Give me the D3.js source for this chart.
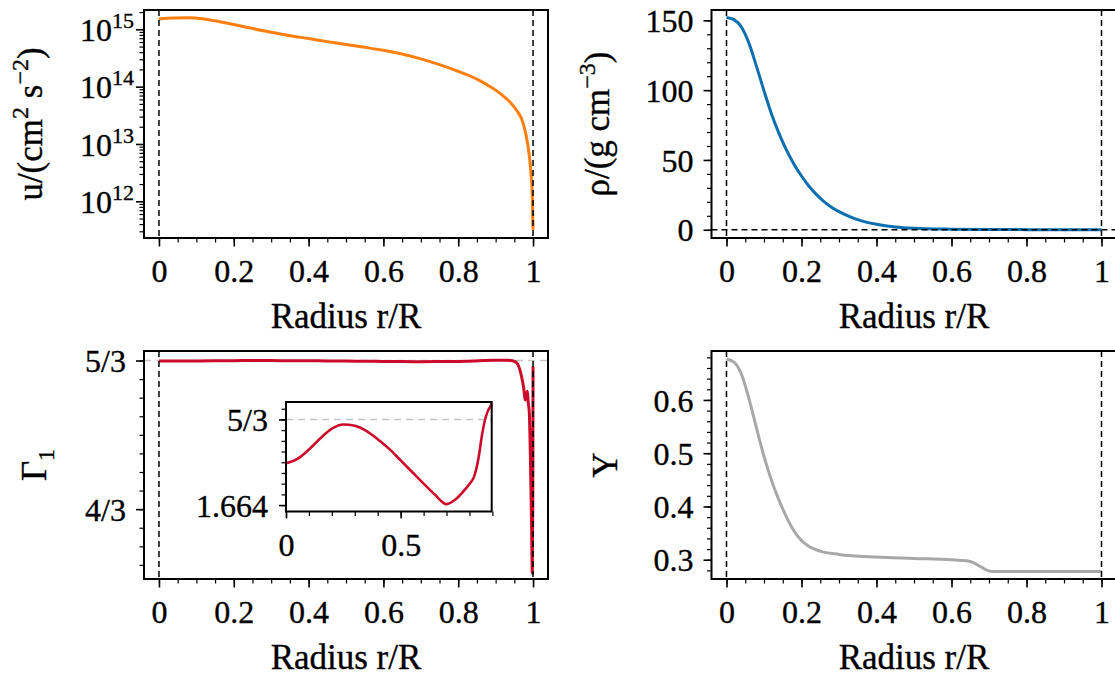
<!DOCTYPE html>
<html><head><meta charset="utf-8">
<script src="https://cdn.jsdelivr.net/npm/d3@7"></script>
<style>
body{margin:0;background:#fff;}
svg{display:block;background:#fff;}
</style></head><body>
<svg id="chart" width="1115" height="679"></svg>
<script>
// ---------------- data ----------------
const radiusTicks = [0, 0.2, 0.4, 0.6, 0.8, 1];
const radiusLabels = ["0", "0.2", "0.4", "0.6", "0.8", "1"];

const uRadius = [0,0.04,0.08,0.12,0.16,0.2,0.25,0.3,0.35,0.4,0.45,0.5,0.55,0.6,0.65,0.7,0.75,0.8,0.85,0.88,0.9,0.92,0.94,0.96,0.97,0.98,0.99,0.995,0.998,1.0];
const uValues = [1.52e15,1.57e15,1.59e15,1.52e15,1.37e15,1.21e15,1.03e15,8.9e14,7.75e14,6.9e14,6.1e14,5.45e14,4.85e14,4.3e14,3.72e14,3.05e14,2.42e14,1.85e14,1.35e14,1.05e14,8.7e13,6.9e13,5.25e13,3.55e13,2.7e13,1.58e13,6.3e12,2.8e12,1.26e12,3.2e11];
const uTicks = [1e12, 1e13, 1e14, 1e15];

const rhoRadius = [0,0.02,0.04,0.06,0.08,0.1,0.12,0.14,0.16,0.18,0.2,0.22,0.24,0.26,0.28,0.3,0.33,0.36,0.4,0.45,0.5,0.6,0.7,0.8,0.9,1.0];
const rhoValues = [152,150.5,145,133.5,117,99.5,83,69,57,47,38.5,31.2,25.2,20.2,16.2,13,9.3,6.4,3.9,2,1.1,0.45,0.2,0.09,0.03,0];
const rhoTicks = [0, 50, 100, 150];

const gammaRadius = [0,0.05,0.1,0.15,0.2,0.25,0.3,0.35,0.4,0.45,0.5,0.55,0.6,0.65,0.7,0.74,0.78,0.8,0.82,0.84,0.855,0.87,0.9,0.93,0.95,0.96,0.965,0.97,0.975,0.979,0.982,0.985,0.987,0.99,0.993,0.996,0.998,0.9993,1.0];
const gammaValues = [1.66530,1.66544,1.66573,1.66608,1.66638,1.66651,1.66647,1.66631,1.66605,1.66575,1.66539,1.66503,1.66467,1.66432,1.66403,1.66418,1.66448,1.66466,1.66488,1.66548,1.66620,1.66672,1.66718,1.6674,1.665,1.657,1.645,1.628,1.605,1.578,1.590,1.598,1.574,1.55,1.45,1.30,1.19,1.35,1.654];
const gammaTicks = [4/3, 5/3];
const gammaLabels = ["4/3", "5/3"];
const insetXTicks = [0, 0.5];
const insetXLabels = ["0", "0.5"];
const insetYTicks = [1.664, 5/3];
const insetYLabels = ["1.664", "5/3"];

const heliumRadius = [0,0.02,0.04,0.06,0.08,0.1,0.12,0.14,0.16,0.18,0.2,0.22,0.25,0.3,0.4,0.5,0.6,0.64,0.66,0.68,0.7,0.72,1.0];
const heliumValues = [0.677,0.671,0.648,0.602,0.547,0.494,0.449,0.412,0.380,0.354,0.336,0.325,0.316,0.310,0.305,0.3025,0.300,0.298,0.294,0.286,0.279,0.278,0.278];
const heliumTicks = [0.3, 0.4, 0.5, 0.6];
const heliumLabels = ["0.3", "0.4", "0.5", "0.6"];

// ---------------- styling ----------------
const FONT = "'Liberation Serif','Times New Roman',serif";
const TICK_FS = 32, LABEL_FS = 35;
const svg = d3.select("#chart");
svg.append("rect").attr("width",1115).attr("height",679).attr("fill","#fff");

let clipId = 0;
function makePanel(left, top, w, h) {
  const g = svg.append("g").attr("transform", `translate(${left},${top})`);
  const id = "clip" + (clipId++);
  g.append("clipPath").attr("id", id).append("rect").attr("width", w).attr("height", h);
  return {g, w, h, left, top, clip: `url(#${id})`};
}

function embolden(sel) {
  sel.attr("stroke", "#000").attr("stroke-width", 0.35);
}

function axis(g, scale, orient, values, size, labels, tx, ty) {
  const gen = (orient === "bottom" ? d3.axisBottom(scale) : d3.axisLeft(scale))
    .tickValues(values).tickSize(size).tickSizeOuter(0)
    .tickFormat(labels ? (d, i) => labels[i] : () => "");
  const a = g.append("g").attr("transform", `translate(${tx},${ty})`).call(gen);
  a.select(".domain").remove();
  a.attr("font-family", FONT).attr("font-size", TICK_FS);
  a.selectAll(".tick line").attr("stroke", "#000").attr("stroke-width", size > 5 ? 1.6 : 1.2);
  a.selectAll(".tick text").attr("fill", "#000");
  embolden(a.selectAll(".tick text"));
  if (orient === "bottom") a.selectAll(".tick text").attr("y", 44).attr("dy", 0);
  else a.selectAll(".tick text").attr("x", -18).attr("dy", "0.35em");
  return a;
}

function frame(p) {
  p.g.append("rect").attr("width", p.w).attr("height", p.h)
    .attr("fill", "none").attr("stroke", "#000").attr("stroke-width", 2);
}

function xAxisFull(p, x) {
  axis(p.g, x, "bottom", d3.range(0, 1.0001, 0.05), 4.5, null, 0, p.h);
  axis(p.g, x, "bottom", radiusTicks, 8.5, radiusLabels, 0, p.h);
  const t = p.g.append("text").attr("x", p.w / 2).attr("y", p.h + 90)
    .attr("text-anchor", "middle").attr("font-family", FONT).attr("font-size", LABEL_FS)
    .text("Radius r/R");
  embolden(t);
}

function vDash(p, x, xv) {
  p.g.append("line").attr("x1", x(xv)).attr("x2", x(xv)).attr("y1", 0).attr("y2", p.h)
    .attr("stroke", "#000").attr("stroke-width", 1.5).attr("stroke-dasharray", "6,4");
}

function yLabel(p, bx, parts) {
  const t = svg.append("text")
    .attr("transform", `translate(${bx},${p.top + p.h / 2}) rotate(-90)`)
    .attr("text-anchor", "middle").attr("font-family", FONT).attr("font-size", LABEL_FS);
  embolden(t);
  let shift = 0;
  parts.forEach(([s, kind]) => {
    const ts = t.append("tspan").text(s);
    let target = kind === "sup" ? -14 : kind === "sub" ? 8 : 0;
    if (kind) ts.attr("font-size", 24);
    if (target !== shift) { ts.attr("dy", target - shift); shift = target; }
  });
}

function curve(p, x, y, xs, ys, color, width, clip) {
  const data = xs.map((r, i) => [r, ys[i]]);
  p.g.append("path").datum(data)
    .attr("clip-path", clip || p.clip)
    .attr("fill", "none").attr("stroke", color).attr("stroke-width", width)
    .attr("stroke-linejoin", "round").attr("stroke-linecap", "butt")
    .attr("d", d3.line().x(d => x(d[0])).y(d => y(d[1])).curve(d3.curveMonotoneX));
}

const xDomain = [-0.04, 1.04];

// ---------------- top-left: u ----------------
{
  const p = makePanel(144, 10, 404, 228);
  const x = d3.scaleLinear().domain(xDomain).range([0, p.w]);
  const y = d3.scaleLog().domain([Math.pow(10, 11.36), Math.pow(10, 15.337)]).range([p.h, 0]);
  curve(p, x, y, uRadius, uValues, "#ff7f0e", 3);
  vDash(p, x, 0); vDash(p, x, 1);
  const minors = [];
  for (let n = 11; n <= 15; n++) for (let k = 2; k <= 9; k++) {
    const v = k * Math.pow(10, n);
    if (v >= y.domain()[0] && v <= y.domain()[1]) minors.push(v);
  }
  axis(p.g, y, "left", minors, 4.5, null, 0, 0);
  const a = axis(p.g, y, "left", uTicks, 8, uTicks.map(() => ""), 0, 0);
  a.selectAll(".tick text").attr("x", -10).each(function(d) {
    const t = d3.select(this);
    t.append("tspan").text("10");
    t.append("tspan").attr("font-size", 22).attr("dy", -13).text(String(Math.round(Math.log10(d))));
  });
  xAxisFull(p, x);
  frame(p);
  yLabel(p, 42, [["u/(cm"], ["2", "sup"], [" s"], ["\u22122", "sup"], [")"]]);
}

// ---------------- top-right: rho ----------------
{
  const p = makePanel(711.5, 10, 405, 228);
  const x = d3.scaleLinear().domain(xDomain).range([0, p.w]);
  const y = d3.scaleLinear().domain([-5.9, 157.4]).range([p.h, 0]);
  curve(p, x, y, rhoRadius, rhoValues, "#0b6fb0", 3);
  vDash(p, x, 0); vDash(p, x, 1);
  p.g.append("line").attr("x1", 0).attr("x2", p.w).attr("y1", y(0)).attr("y2", y(0))
    .attr("stroke", "#000").attr("stroke-width", 1.5).attr("stroke-dasharray", "6,4");
  axis(p.g, y, "left", d3.range(0, 151, 10), 4.5, null, 0, 0);
  axis(p.g, y, "left", rhoTicks, 8, rhoTicks.map(String), 0, 0);
  xAxisFull(p, x);
  frame(p);
  yLabel(p, 609, [["\u03C1/(g cm"], ["\u22123", "sup"], [")"]]);
}

// ---------------- bottom-left: Gamma1 ----------------
{
  const p = makePanel(144, 351, 404, 228);
  const x = d3.scaleLinear().domain(xDomain).range([0, p.w]);
  const y = d3.scaleLinear().domain([1.1767, 1.688]).range([p.h, 0]);
  p.g.append("line").attr("x1", 0).attr("x2", p.w).attr("y1", y(5/3)).attr("y2", y(5/3))
    .attr("stroke", "#c4c4c4").attr("stroke-width", 1.5).attr("stroke-dasharray", "7,5");
  curve(p, x, y, gammaRadius, gammaValues, "#cc0a2a", 3);
  vDash(p, x, 0); vDash(p, x, 1);
  axis(p.g, y, "left", d3.range(29, 41).map(k => k / 24), 4.5, null, 0, 0);
  axis(p.g, y, "left", gammaTicks, 8, gammaLabels, 0, 0);
  xAxisFull(p, x);
  frame(p);
  yLabel(p, 46, [["\u0393"], ["1", "sub"]]);

  // inset
  const ip = {g: p.g.append("g").attr("transform", "translate(142,51)"), w: 205.7, h: 109.5};
  ip.g.append("rect").attr("width", ip.w).attr("height", ip.h).attr("fill", "#fff");
  ip.g.append("clipPath").attr("id", "clipInset").append("rect").attr("width", ip.w).attr("height", ip.h);
  ip.clip = "url(#clipInset)";
  const ix = d3.scaleLinear().domain([0, 0.897]).range([0, ip.w]);
  const iy = d3.scaleLinear().domain([1.6638, 1.66721]).range([ip.h, 0]);
  ip.g.append("line").attr("x1", 0).attr("x2", ip.w).attr("y1", iy(5/3)).attr("y2", iy(5/3))
    .attr("stroke", "#c4c4c4").attr("stroke-width", 1.5).attr("stroke-dasharray", "7,5");
  curve(ip, ix, iy, gammaRadius, gammaValues, "#cc0a2a", 2.6);
  axis(ip.g, ix, "bottom", d3.range(0, 0.9001, 0.1), 4.5, null, 0, ip.h);
  axis(ip.g, ix, "bottom", insetXTicks, 7, insetXLabels, 0, ip.h);
  axis(ip.g, iy, "left", d3.range(0, 10).map(k => 1.664 + k / 3000), 4.5, null, 0, 0);
  axis(ip.g, iy, "left", insetYTicks, 7, insetYLabels, 0, 0);
  ip.g.append("rect").attr("width", ip.w).attr("height", ip.h)
    .attr("fill", "none").attr("stroke", "#000").attr("stroke-width", 2);
}

// ---------------- bottom-right: Y ----------------
{
  const p = makePanel(711.5, 351, 405, 228);
  const x = d3.scaleLinear().domain(xDomain).range([0, p.w]);
  const y = d3.scaleLinear().domain([0.2638, 0.6919]).range([p.h, 0]);
  curve(p, x, y, heliumRadius, heliumValues, "#a8a8a8", 3);
  vDash(p, x, 0); vDash(p, x, 1);
  axis(p.g, y, "left", d3.range(14, 35).map(k => k * 0.02), 4.5, null, 0, 0);
  axis(p.g, y, "left", heliumTicks, 8, heliumLabels, 0, 0);
  xAxisFull(p, x);
  frame(p);
  yLabel(p, 617, [["Y"]]);
}
</script>
</body></html>
